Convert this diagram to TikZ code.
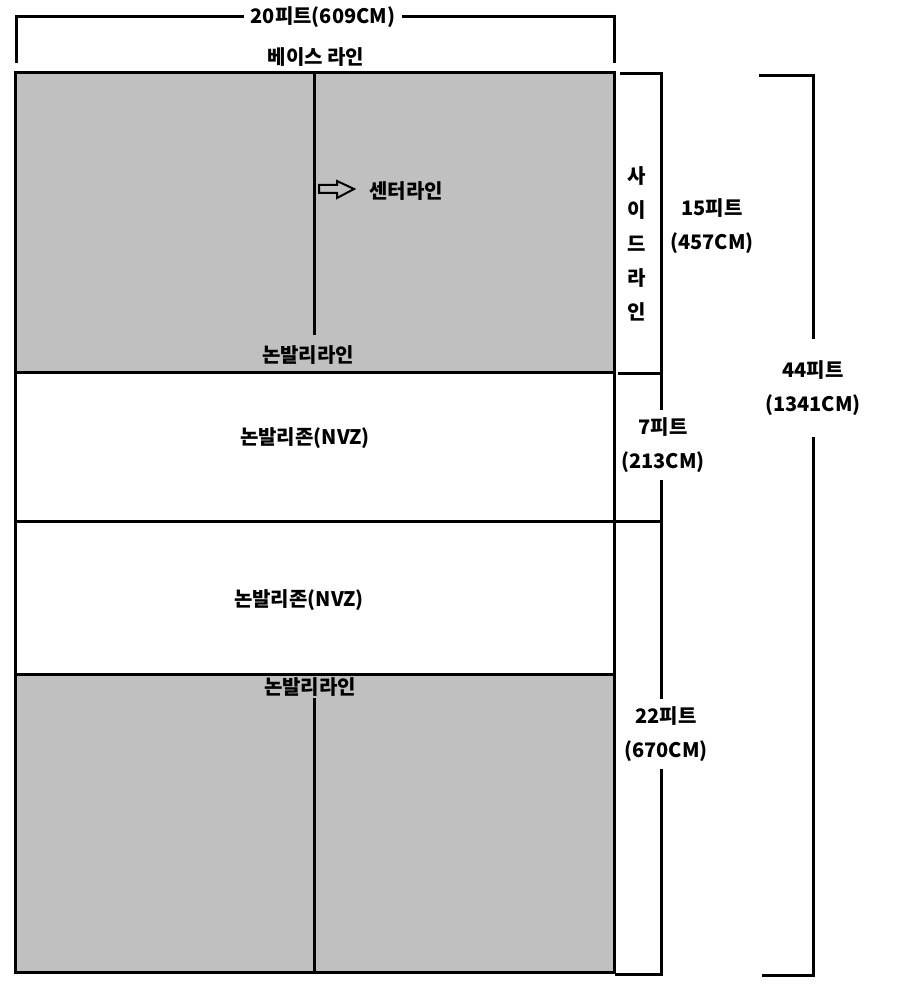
\documentclass[tikz,border=0pt]{standalone}
\usepackage{fontspec}
\setmainfont{Noto Sans CJK KR}
\usepackage{tikz}
\usetikzlibrary{calc}
\usetikzlibrary{positioning}
\definecolor{courtgray}{RGB}{192, 192, 192}
\tikzset{lbl/.style={font=\fontsize{10}{17}\selectfont\bfseries, inner sep=3pt, align=center}}
\begin{document}
\begin{tikzpicture}[x=0.5pt, y=-0.5pt, line width=1.5pt]
            \useasboundingbox                                             (0, 0) rectangle (900, 1000);
            \fill[courtgray]                                              (15, 73) rectangle (614, 372);
            \fill[courtgray]                                              (15, 674) rectangle (614, 972);
            \draw                                                         (15, 73) rectangle (614, 972);
            \draw                                                         (15, 372) -- (614, 372);
            \draw                                                         (15, 521) -- (614, 521);
            \draw                                                         (15, 674) -- (614, 674);
            \node[lbl] (base)   at (316, 57)  {베이스 라인};
            \node[lbl] (nvtop)  at (308, 355) {논발리라인};
            \node[lbl] (nvbot)  at (310, 687) {논발리라인};
            \node[lbl] (zone1)  at (305, 438) {논발리존(NVZ)};
            \node[lbl] (zone2)  at (299, 600) {논발리존(NVZ)};
            \node[lbl] (center) at (406, 191) {센터라인};
            \draw                                                         (314, 73) -- (314, 335);
            \draw                                                         (314, 698) -- (314, 972);
            \draw[line width=1pt, fill=courtgray]                         (319, 185) -- (337, 185) -- (337, 181) -- (354, 189)
                 -- (337, 198) -- (337, 193) -- (319, 193) -- cycle;
            % width
            \node[lbl, inner xsep=2.5pt] (w20) at (323, 17) {20피트(609CM)};
            \draw                                                         (16, 63) |- (w20.west);
            \draw                                                         (w20.east) -| (614, 63);
            % side line
            \node[lbl] (side)  at (637, 244) {사\\이\\드\\라\\인};
            \draw                                                         (620, 74) -| (661, 373) -- (618, 373);
            \node[lbl] (h15)   at (712, 226) {15피트\\(457CM)};
            \node[lbl] (h7)    at (663, 445) {7피트\\(213CM)};
            \draw                                                         (661, 373) -- (661, 373 |- h7.north);
            \draw                                                         (661, 521 |- h7.south) -- (661, 521) -- (616, 521);
            \node[lbl] (h22)   at (666, 734) {22피트\\(670CM)};
            \draw                                                         (661, 521) -- (661, 521 |- h22.north);
            \draw                                                         (661, 521 |- h22.south) -- (661, 974) -- (615, 974);
            \node[lbl, inner ysep=10pt] (h44) at (813, 388) {44피트\\(1341CM)};
            \draw                                                         (759, 76) -| (h44.north);
            \draw                                                         (h44.south) |- (762, 975);
        \end{tikzpicture}
\end{document}
